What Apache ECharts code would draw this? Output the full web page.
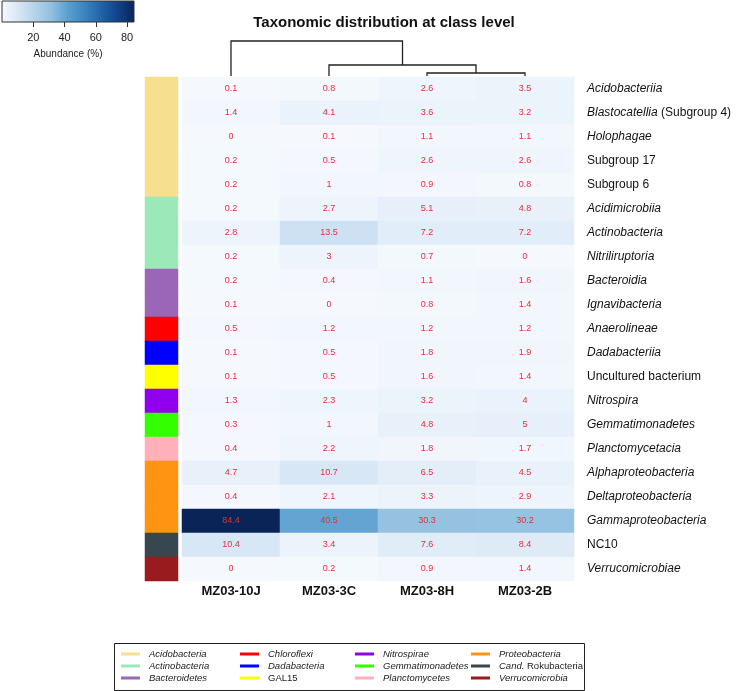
<!DOCTYPE html>
<html>
<head>
<meta charset="utf-8">
<script src="https://cdn.jsdelivr.net/npm/echarts@6/dist/echarts.min.js"></script>
<style>
  html, body { margin: 0; padding: 0; background: #fff; }
  #main { width: 737px; height: 691px; }
</style>
</head>
<body>
<div id="main"></div>
<script>
// samples (columns) and classes (rows)
var samples = ['MZ03-10J', 'MZ03-3C', 'MZ03-8H', 'MZ03-2B'];
var classes = ['Acidobacteriia', 'Blastocatellia (Subgroup 4)', 'Holophagae', 'Subgroup 17', 'Subgroup 6',
               'Acidimicrobiia', 'Actinobacteria', 'Nitriliruptoria', 'Bacteroidia', 'Ignavibacteria',
               'Anaerolineae', 'Dadabacteriia', 'Uncultured bacterium', 'Nitrospira', 'Gemmatimonadetes',
               'Planctomycetacia', 'Alphaproteobacteria', 'Deltaproteobacteria', 'Gammaproteobacteria',
               'NC10', 'Verrucomicrobiae'];
var plainNames = ['Subgroup 17', 'Subgroup 6', 'Uncultured bacterium', 'NC10'];   // not italic

// abundance (%) per sample, one value per class
var mz10J = [0.1, 1.4, 0, 0.2, 0.2, 0.2, 2.8, 0.2, 0.2, 0.1, 0.5, 0.1, 0.1, 1.3, 0.3, 0.4, 4.7, 0.4, 84.4, 10.4, 0];
var mz3C  = [0.8, 4.1, 0.1, 0.5, 1, 2.7, 13.5, 3, 0.4, 0, 1.2, 0.5, 0.5, 2.3, 1, 2.2, 10.7, 2.1, 40.5, 3.4, 0.2];
var mz8H  = [2.6, 3.6, 1.1, 2.6, 0.9, 5.1, 7.2, 0.7, 1.1, 0.8, 1.2, 1.8, 1.6, 3.2, 4.8, 1.8, 6.5, 3.3, 30.3, 7.6, 0.9];
var mz2B  = [3.5, 3.2, 1.1, 2.6, 0.8, 4.8, 7.2, 0, 1.6, 1.4, 1.2, 1.9, 1.4, 4, 5, 1.7, 4.5, 2.9, 30.2, 8.4, 1.4];

// phylum of each class row
var rowPhylum = ['Acidobacteria', 'Acidobacteria', 'Acidobacteria', 'Acidobacteria', 'Acidobacteria',
                 'Actinobacteria', 'Actinobacteria', 'Actinobacteria', 'Bacteroidetes', 'Bacteroidetes',
                 'Chloroflexi', 'Dadabacteria', 'GAL15', 'Nitrospirae', 'Gemmatimonadetes',
                 'Planctomycetes', 'Proteobacteria', 'Proteobacteria', 'Proteobacteria',
                 'Cand. Rokubacteria', 'Verrucomicrobia'];
var phyla = ['Acidobacteria', 'Actinobacteria', 'Bacteroidetes', 'Chloroflexi', 'Dadabacteria', 'GAL15',
             'Nitrospirae', 'Gemmatimonadetes', 'Planctomycetes', 'Proteobacteria', 'Cand. Rokubacteria',
             'Verrucomicrobia'];
var phylaColors = ['#f6df8e', '#9de8b8', '#9b65b8', '#ff0000', '#0000ff', '#ffff00',
                   '#9000ee', '#33ff00', '#ffb0bb', '#ff9412', '#37474f', '#9a1b1e'];

// dendrogram: [childA, childB, height]; children >= 10 are earlier merges (10 + index)
var merges = [[2, 3, 3], [1, 10, 11], [0, 11, 35]];

var scaleMax = 84.4;
var scaleTicks = [20, 40, 60, 80];
var blues = ['#f5f9fe', '#d8e7f5', '#b5d3ea', '#91c0df', '#5a9fcf', '#3a84c0', '#1f64a8', '#10438a', '#0a2457'];

var font = 'Liberation Sans, Arial, sans-serif';
var chart = echarts.init(document.getElementById('main'));

var cols = [mz10J, mz3C, mz8H, mz2B];
var heatData = [];
cols.forEach(function (col, x) {
    col.forEach(function (v, y) { heatData.push([x, y, v]); });
});

var sideData = rowPhylum.map(function (p, y) {
    return { value: [0, y, 1], itemStyle: { color: phylaColors[phyla.indexOf(p)] } };
});

// dendrogram polylines
var nodeX = [], nodeH = [], dendroLines = [];
function pos(c) { return c >= 10 ? [nodeX[c - 10], nodeH[c - 10]] : [c, 0]; }
merges.forEach(function (m) {
    var a = pos(m[0]), b = pos(m[1]);
    dendroLines.push({ coords: [[a[0], a[1]], [a[0], m[2]], [b[0], m[2]], [b[0], b[1]]] });
    nodeX.push((a[0] + b[0]) / 2);
    nodeH.push(m[2]);
});

function rowLabel(name) {
    if (plainNames.indexOf(name) >= 0) return '{n|' + name + '}';
    var k = name.indexOf(' (');
    if (k > 0) return '{i|' + name.slice(0, k) + '}{n|' + name.slice(k) + '}';
    return '{i|' + name + '}';
}

var legendCols = [[0, 1, 2], [3, 4, 5], [6, 7, 8], [9, 10, 11]];
var legendLeft = [121, 240, 355, 471];
var legends = legendCols.map(function (idx, c) {
    return {
        orient: 'vertical',
        left: legendLeft[c],
        top: 648,
        width: 110,
        height: 60,
        padding: 0,
        itemWidth: 19,
        itemHeight: 3,
        itemGap: 0,
        icon: 'rect',
        selectedMode: false,
        data: idx.map(function (i) { return phyla[i]; }),
        formatter: function (n) {
            if (n === 'GAL15') return '{n|' + n + '}';
            if (n.indexOf('Cand.') === 0) return '{i|Cand.}{n|' + n.slice(5) + '}';
            return '{i|' + n + '}';
        },
        textStyle: {
            fontFamily: font, fontSize: 9.5, lineHeight: 12, color: '#222', padding: [0, 0, 0, 4],
            rich: {
                i: { fontFamily: font, fontSize: 9.5, lineHeight: 12, fontStyle: 'italic', color: '#222' },
                n: { fontFamily: font, fontSize: 9.5, lineHeight: 12, color: '#222' }
            }
        }
    };
});

var legendSeries = phyla.map(function (p, i) {
    return {
        name: p, type: 'line', xAxisIndex: 2, yAxisIndex: 2, data: [],
        itemStyle: { color: phylaColors[i] }, lineStyle: { color: phylaColors[i] }
    };
});

var option = {
    backgroundColor: '#fff',
    animation: false,
    title: {
        text: 'Taxonomic distribution at class level',
        left: 379, top: 10, textAlign: 'center',
        textStyle: { fontFamily: font, fontSize: 15, fontWeight: 'bold', color: '#111' }
    },
    legend: legends,
    visualMap: {
        show: false, seriesIndex: 0, min: 0, max: scaleMax, dimension: 2,
        inRange: { color: blues }
    },
    grid: [
        { left: 182, top: 77, width: 392, height: 504 },                       // heatmap
        { left: 145, top: 77, width: 33, height: 504 },                        // phylum bar
        { left: 182, top: 40, width: 392, height: 37 },                        // dendrogram
        { left: 2, top: 1, width: 132, height: 21, show: true, borderColor: '#333', borderWidth: 1,
          backgroundColor: new echarts.graphic.LinearGradient(0, 0, 1, 0,
              blues.map(function (c, i) { return { offset: i / (blues.length - 1), color: c }; })) }
    ],
    xAxis: [
        { type: 'category', gridIndex: 0, data: samples, position: 'bottom',
          axisLine: { show: false }, axisTick: { show: false }, splitLine: { show: false },
          axisLabel: { margin: 4, fontFamily: font, fontSize: 13, fontWeight: 'bold', color: '#111' } },
        { type: 'category', gridIndex: 1, data: ['phylum'], show: false },
        { type: 'value', gridIndex: 2, min: -0.5, max: 3.5, show: false },
        { type: 'value', gridIndex: 3, min: 0, max: scaleMax, position: 'bottom',
          name: 'Abundance (%)', nameLocation: 'middle', nameGap: 27,
          nameTextStyle: { fontFamily: font, fontSize: 10, color: '#222' },
          axisLine: { show: false }, splitLine: { show: false },
          axisTick: { show: true, length: 5, lineStyle: { color: '#333' }, customValues: scaleTicks },
          axisLabel: { margin: 10, fontFamily: font, fontSize: 11, color: '#222', customValues: scaleTicks } }
    ],
    yAxis: [
        { type: 'category', gridIndex: 0, data: classes, inverse: true, position: 'right',
          axisLine: { show: false }, axisTick: { show: false }, splitLine: { show: false },
          axisLabel: {
              margin: 13, align: 'left', formatter: rowLabel,
              rich: {
                  i: { fontFamily: font, fontSize: 12, fontStyle: 'italic', color: '#111' },
                  n: { fontFamily: font, fontSize: 12, color: '#111' }
              }
          } },
        { type: 'category', gridIndex: 1, data: classes, inverse: true, show: false },
        { type: 'value', gridIndex: 2, min: -1, max: 36, show: false },
        { type: 'value', gridIndex: 3, min: 0, max: 1, show: false }
    ],
    series: [
        {
            type: 'heatmap', xAxisIndex: 0, yAxisIndex: 0, data: heatData,
            label: { show: true, fontFamily: font, fontSize: 9, color: '#f0283a' },
            emphasis: { disabled: true }
        },
        {
            type: 'heatmap', xAxisIndex: 1, yAxisIndex: 1, data: sideData,
            emphasis: { disabled: true }
        },
        {
            type: 'lines', coordinateSystem: 'cartesian2d', xAxisIndex: 2, yAxisIndex: 2,
            polyline: true, data: dendroLines,
            lineStyle: { color: '#222', width: 1.3, opacity: 1 }
        }
    ].concat(legendSeries),
    graphic: [
        { type: 'rect', left: 112, top: 641, shape: { width: 470, height: 47 },
          style: { fill: 'none', stroke: '#222', lineWidth: 1 }, z: -1 }
    ]
};
chart.setOption(option);
</script>
</body>
</html>
